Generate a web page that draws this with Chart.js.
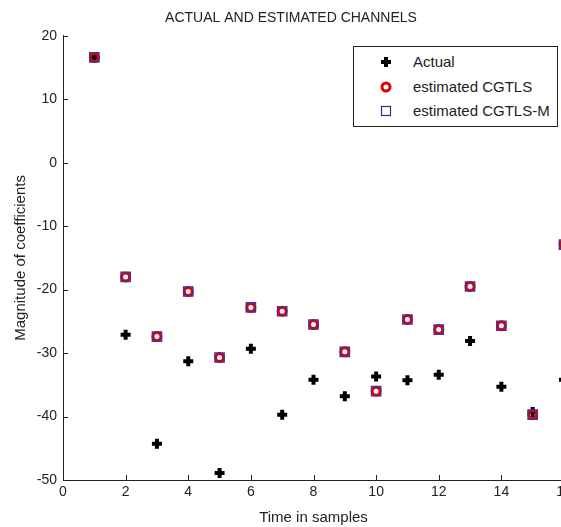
<!DOCTYPE html>
<html><head><meta charset="utf-8">
<script src="https://cdn.jsdelivr.net/npm/chart.js@4.4.1/dist/chart.umd.min.js"></script>
<style>
html,body{margin:0;padding:0;background:#fff;overflow:hidden;width:561px;height:527px;}
#wrap{position:absolute;left:0;top:0;width:582px;height:527px;}
#legend{position:absolute;left:353px;top:46px;width:203px;height:79px;border:1px solid #222;background:#fff;font-family:'Liberation Sans',Arial,sans-serif;font-size:15px;color:#222;}
.row{position:absolute;left:0;height:24px;line-height:24px;white-space:nowrap}
.row svg{position:absolute;left:26px;top:6px}
.row span{position:absolute;left:59px;top:0}
</style></head>
<body>
<div id="wrap"><canvas id="c" width="582" height="527"></canvas>
<div id="legend">
  <div class="row" style="top:3px"><svg width="12" height="12"><path d="M6 1V11M1 6H11" stroke="#000" stroke-width="4"/></svg><span>Actual</span></div>
  <div class="row" style="top:28px"><svg width="12" height="12"><circle cx="6" cy="6" r="4" stroke="#e00000" stroke-width="3" fill="none"/></svg><span>estimated CGTLS</span></div>
  <div class="row" style="top:52px"><svg width="12" height="12"><rect x="1.5" y="1.5" width="9" height="9" stroke="#3a2a7a" stroke-width="1.2" fill="none"/></svg><span>estimated CGTLS-M</span></div>
</div>
</div>
<script>
const samples = [1,2,3,4,5,6,7,8,9,10,11,12,13,14,15,16];
const actual  = [16.6,-27.1,-44.3,-31.3,-48.9,-29.3,-39.7,-34.2,-36.8,-33.7,-34.3,-33.4,-28.1,-35.3,-39.3,-34.2];
const cgtls   = [16.6,-18.0,-27.4,-20.3,-30.7,-22.8,-23.4,-25.5,-29.8,-36.0,-24.7,-26.3,-19.5,-25.7,-39.7,-12.9];
const cgtlsM  = [16.6,-18.0,-27.4,-20.3,-30.7,-22.8,-23.4,-25.5,-29.8,-36.0,-24.7,-26.3,-19.5,-25.7,-39.7,-12.9];
const xTicks = [0,2,4,6,8,10,12,14,16];
const yTicks = [-50,-40,-30,-20,-10,0,10,20];

const FAM = "'Liberation Sans',Arial,sans-serif";
const TXT = '#222';
const pts = (ys) => samples.map((x,i)=>({x, y: ys[i]}));

const inwardTicks = {
  id:'inwardTicks',
  afterDraw(chart){
    const {ctx, scales:{x,y}, chartArea:a} = chart;
    ctx.save(); ctx.strokeStyle='#222'; ctx.lineWidth=1;
    ctx.beginPath();
    x.ticks.forEach(t=>{const px=Math.round(x.getPixelForValue(t.value))+0.5; ctx.moveTo(px,a.bottom); ctx.lineTo(px,a.bottom-5);});
    y.ticks.forEach(t=>{const py=Math.round(y.getPixelForValue(t.value))+0.5; ctx.moveTo(a.left,py); ctx.lineTo(a.left+5,py);});
    ctx.stroke(); ctx.restore();
  }
};

new Chart(document.getElementById('c'), {
  type:'scatter',
  data:{datasets:[
    {label:'Actual', data:pts(actual), pointStyle:'cross', pointRadius:5, borderWidth:4, borderColor:'#000', backgroundColor:'#000', order:3, clip:false},
    {label:'estimated CGTLS', data:pts(cgtls), pointStyle:'circle', pointRadius:4, borderWidth:3, borderColor:'#e00000', backgroundColor:'rgba(0,0,0,0)', order:2, clip:false},
    {label:'estimated CGTLS-M', data:pts(cgtlsM), pointStyle:'rect', pointRadius:6.4, borderWidth:1.6, borderColor:'#5a2a8a', backgroundColor:'rgba(0,0,0,0)', order:1, clip:false}
  ]},
  options:{
    responsive:false, animation:false,
    layout:{padding:0},
    plugins:{
      legend:{display:false}, tooltip:{enabled:false},
      title:{display:true, text:'ACTUAL AND ESTIMATED CHANNELS', color:TXT, font:{family:FAM, size:14, weight:'normal', lineHeight:1.2}, padding:{top:10,bottom:9}}
    },
    scales:{
      x:{type:'linear', min:0, max:16,
        afterBuildTicks(s){ s.ticks = xTicks.map(v=>({value:v})); },
        ticks:{padding:4, color:TXT, font:{family:FAM, size:14}},
        grid:{display:false, drawTicks:false}, border:{display:true, color:'#222'},
        title:{display:true, text:'Time in samples', color:TXT, font:{family:FAM, size:15, lineHeight:1}, padding:{top:0,bottom:2}},
        afterFit(s){ s.height = 47; }
      },
      y:{type:'linear', min:-50, max:20,
        afterBuildTicks(s){ s.ticks = yTicks.map(v=>({value:v})); },
        ticks:{padding:6, color:TXT, font:{family:FAM, size:14}},
        grid:{display:false, drawTicks:false}, border:{display:true, color:'#222'},
        title:{display:true, text:'Magnitude of coefficients', color:TXT, font:{family:FAM, size:15, lineHeight:1}, padding:{top:13,bottom:0}},
        afterFit(s){ s.width = 63; }
      },
      y2:{position:'right', display:true, min:0, max:1,
        ticks:{display:false}, grid:{display:false, drawTicks:false}, border:{display:false},
        afterFit(s){ s.width = 18; }
      }
    }
  },
  plugins:[inwardTicks]
});
</script>
</body></html>
